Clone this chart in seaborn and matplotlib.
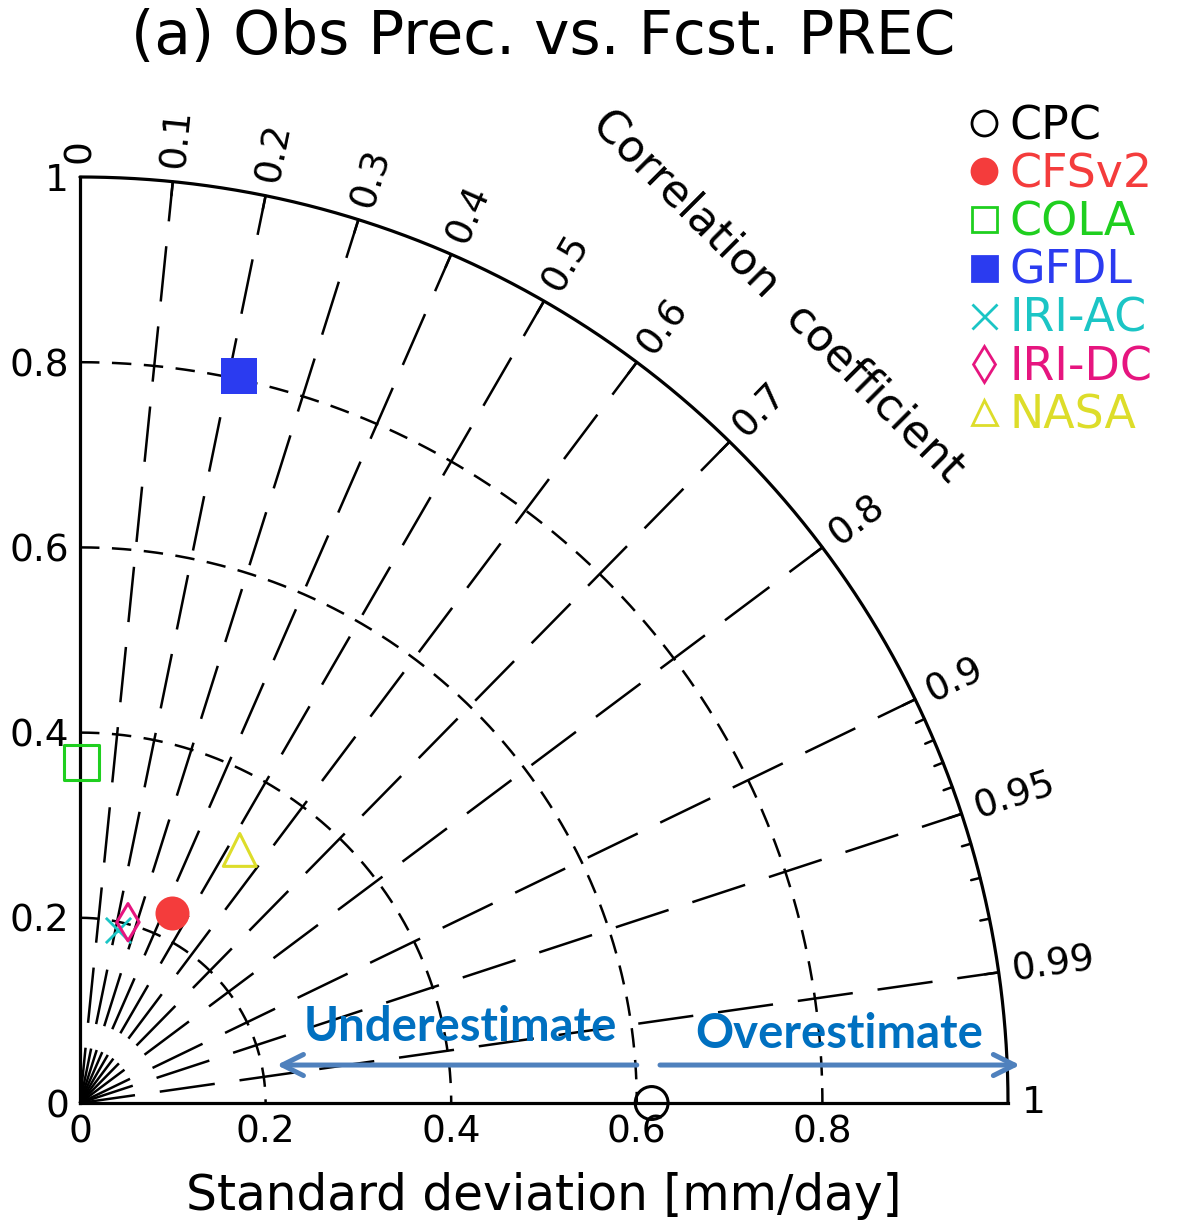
import numpy as np
import pandas as pd
import matplotlib
matplotlib.use("Agg")
import matplotlib.pyplot as plt
from matplotlib.lines import Line2D
import seaborn as sns

# ---------------- data ----------------
models = ["CPC", "CFSv2", "COLA", "GFDL", "IRI-AC", "IRI-DC", "NASA"]
std_dev = [0.616, 0.228, 0.368, 0.803, 0.191, 0.202, 0.323]
corr = [1.000, 0.435, 0.005, 0.213, 0.214, 0.256, 0.533]
colors = ["#000000", "#F43C3C", "#1FCF1F", "#2B3BF0", "#1BC5C5", "#E6157F", "#DDDD2A"]
markers = ["o", "o", "s", "s", "x", "d", "^"]
filled = [False, True, False, True, True, False, False]
sizes = [560, 600, 620, 640, 330, 360, 560]

std_ticks = [0, 0.2, 0.4, 0.6, 0.8, 1.0]
std_ticklabels = ["0", "0.2", "0.4", "0.6", "0.8", "1"]
std_arcs = [0.2, 0.4, 0.6, 0.8]
corr_major = [0.1, 0.2, 0.3, 0.4, 0.5, 0.6, 0.7, 0.8, 0.9, 0.95, 0.99]
corr_minor = [0.91, 0.92, 0.93, 0.94, 0.96, 0.97, 0.98]
corr_labels = ["0", "0.1", "0.2", "0.3", "0.4", "0.5", "0.6", "0.7", "0.8",
               "0.9", "0.95", "0.99", "1"]
corr_label_vals = [0, 0.1, 0.2, 0.3, 0.4, 0.5, 0.6, 0.7, 0.8, 0.9, 0.95, 0.99, 1.0]

title = "(a) Obs Prec. vs. Fcst. PREC"
xlabel = "Standard deviation [mm/day]"
corr_title = "Correlation  coefficient"
under_text = "Underestimate"
over_text = "Overestimate"

# ---------------- style ----------------
sns.set_style("white")
plt.rcParams["font.family"] = ["DejaVu Sans"]
plt.rcParams["lines.scale_dashes"] = False
for k in ["text.color", "axes.labelcolor", "xtick.color", "ytick.color"]:
    plt.rcParams[k] = "black"

df = pd.DataFrame({"model": models, "std": std_dev, "corr": corr})
df["x"] = df["std"] * df["corr"]
df["y"] = df["std"] * np.sqrt(1 - df["corr"] ** 2)

W, H = 1193, 1221
fig = plt.figure(figsize=(W / 100, H / 100), dpi=100)
ax = fig.add_axes([80 / W, 118 / H, 928 / W, 926 / H])
ax.set_xlim(0, 1)
ax.set_ylim(0, 1)

# spines
for s in ["top", "right"]:
    ax.spines[s].set_visible(False)
for s in ["left", "bottom"]:
    ax.spines[s].set_linewidth(2.3)
    ax.spines[s].set_color("black")

# outer arc
th = np.linspace(0, np.pi / 2, 400)
ax.plot(np.cos(th), np.sin(th), color="black", lw=2.3, clip_on=False, zorder=2)

# std arcs (short dashes), start at y-axis
th_r = np.linspace(np.pi / 2, 0, 400)
for r in std_arcs:
    ax.plot(r * np.cos(th_r), r * np.sin(th_r), color="black", lw=1.8,
            dashes=(14, 9), zorder=1)

# radial lines (long dashes)
for c in corr_major:
    t = np.arccos(c)
    ax.plot([0, np.cos(t)], [0, np.sin(t)], color="black", lw=1.8,
            dashes=(40, 18), zorder=1, clip_on=False)

# ticks on outer arc
for c in corr_major:
    t = np.arccos(c)
    ax.plot([np.cos(t), 0.985 * np.cos(t)], [np.sin(t), 0.985 * np.sin(t)],
            color="black", lw=1.8, zorder=2, clip_on=False)
for c in corr_minor:
    t = np.arccos(c)
    ax.plot([np.cos(t), 0.99 * np.cos(t)], [np.sin(t), 0.99 * np.sin(t)],
            color="black", lw=1.8, zorder=2, clip_on=False)

# correlation labels
for c, lab in zip(corr_label_vals, corr_labels):
    t = np.arccos(c)
    ax.text(1.015 * np.cos(t), 1.015 * np.sin(t), lab, rotation=np.degrees(t),
            rotation_mode="anchor", ha="left", va="center", fontsize=27,
            clip_on=False)

ax.text(0.752, 0.872, corr_title, rotation=-45, ha="center", va="center",
        fontsize=32, rotation_mode="anchor")

# axis ticks
ax.set_xticks(std_ticks[:-1])
ax.set_xticklabels(std_ticklabels[:-1])
ax.set_yticks(std_ticks)
ax.set_yticklabels(std_ticklabels)
ax.tick_params(axis="x", direction="in", length=13, width=1.8, labelsize=27, pad=8)
ax.tick_params(axis="y", direction="in", length=10, width=1.8, labelsize=27, pad=8)

# data points
for i, row in df.iterrows():
    sub = df.iloc[[i]]
    if markers[i] == "x":
        sns.scatterplot(data=sub, x="x", y="y", marker="x", s=sizes[i],
                        color=colors[i], linewidth=2.0, ax=ax, clip_on=False,
                        zorder=5, legend=False)
    elif filled[i]:
        sns.scatterplot(data=sub, x="x", y="y", marker=markers[i], s=sizes[i],
                        color=colors[i], edgecolor=colors[i], linewidth=0,
                        ax=ax, clip_on=False, zorder=5, legend=False)
    else:
        sns.scatterplot(data=sub, x="x", y="y", marker=markers[i], s=sizes[i],
                        facecolor="none", edgecolor=colors[i], linewidth=2.2,
                        ax=ax, clip_on=False, zorder=5, legend=False)
ax.set_xlabel(xlabel, fontsize=35, labelpad=16)
ax.set_ylabel("")

# legend
handles = []
for m, col, f in zip(markers, colors, filled):
    handles.append(Line2D([], [], marker=m, linestyle="none", markersize=18,
                          markerfacecolor=col if f else "none",
                          markeredgecolor=col, markeredgewidth=2.0))
fig.legend(handles, models, loc="upper left",
           bbox_to_anchor=(968 / W, 1 - 104 / H), frameon=False,
           fontsize=33, labelcolor=colors, handlelength=0.7,
           handletextpad=0.2, labelspacing=0.07, borderaxespad=0,
           borderpad=0)

# under/over estimate arrows
arrow_col = "#4F81BD"
ax.annotate("", xy=(0.212, 0.041), xytext=(0.600, 0.041),
            arrowprops=dict(arrowstyle="->", color=arrow_col, lw=3.6,
                            mutation_scale=38, shrinkA=0, shrinkB=0),
            annotation_clip=False, zorder=6)
ax.annotate("", xy=(1.013, 0.041), xytext=(0.625, 0.041),
            arrowprops=dict(arrowstyle="->", color=arrow_col, lw=3.6,
                            mutation_scale=38, shrinkA=0, shrinkB=0),
            annotation_clip=False, zorder=6)
ax.text(0.41, 0.082, under_text, color="#0070C0", fontsize=34,
        fontfamily=["Lato", "DejaVu Sans"], fontweight="bold",
        ha="center", va="center", zorder=6)
ax.text(0.818, 0.074, over_text, color="#0070C0", fontsize=34,
        fontfamily=["Lato", "DejaVu Sans"], fontweight="bold",
        ha="center", va="center", zorder=6)

fig.text(543 / W, 1 - 38 / H, title, fontsize=43, ha="center", va="center")

fig.savefig("out.png", dpi=100)
